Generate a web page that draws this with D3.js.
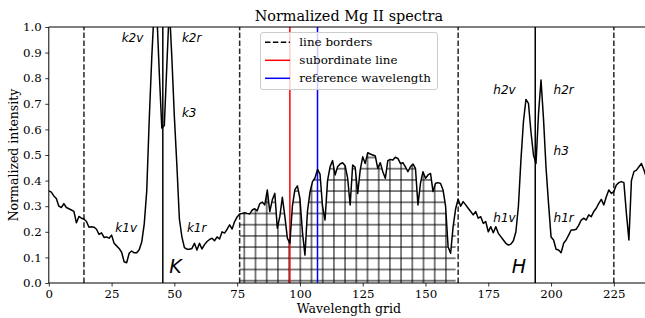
<!DOCTYPE html>
<html>
<head>
<meta charset="utf-8">
<script src="https://cdn.jsdelivr.net/npm/d3@7/dist/d3.min.js"></script>
<style>
	body { margin: 0; background: #fff; }
	svg { display: block; overflow: hidden; }
</style>
</head>
<body>
<svg id="chart" width="645" height="318"></svg>
<script>
// normalized intensity per wavelength grid point (0..239)
const intensity = [
	0.36, 0.355, 0.34, 0.33, 0.30, 0.295, 0.31, 0.295, 0.29, 0.285,
	0.28, 0.235, 0.26, 0.253, 0.25, 0.24, 0.218, 0.22, 0.218, 0.21,
	0.19, 0.196, 0.178, 0.18, 0.175, 0.187, 0.155, 0.145, 0.135, 0.12,
	0.083, 0.079, 0.116, 0.125, 0.118, 0.118, 0.13, 0.16, 0.23, 0.36,
	0.64, 0.88, 1.08, 1.06, 0.82, 0.605, 0.615, 0.85, 1.08, 0.88,
	0.65, 0.46, 0.25, 0.18, 0.138, 0.132, 0.132, 0.135, 0.155, 0.129,
	0.155, 0.133, 0.15, 0.162, 0.17, 0.175, 0.165, 0.18, 0.172, 0.2,
	0.195, 0.21, 0.227, 0.211, 0.24, 0.258, 0.27, 0.272, 0.275, 0.272,
	0.27, 0.285, 0.29, 0.282, 0.31, 0.316, 0.305, 0.363, 0.279, 0.325,
	0.35, 0.214, 0.26, 0.335, 0.26, 0.175, 0.155, 0.30, 0.365, 0.379,
	0.33, 0.20, 0.109, 0.28, 0.355, 0.396, 0.41, 0.444, 0.425, 0.30,
	0.246, 0.40, 0.454, 0.478, 0.422, 0.454, 0.465, 0.47, 0.458, 0.41,
	0.305, 0.461, 0.452, 0.35, 0.441, 0.493, 0.467, 0.509, 0.504, 0.50,
	0.496, 0.448, 0.47, 0.435, 0.409, 0.478, 0.483, 0.48, 0.491, 0.487,
	0.467, 0.47, 0.454, 0.435, 0.454, 0.465, 0.448, 0.305, 0.389, 0.435,
	0.409, 0.422, 0.428, 0.357, 0.39, 0.392, 0.389, 0.363, 0.30, 0.142,
	0.116, 0.22, 0.29, 0.327, 0.30, 0.318, 0.305, 0.292, 0.279, 0.266,
	0.279, 0.253, 0.259, 0.233, 0.24, 0.20, 0.22, 0.196, 0.22, 0.194,
	0.181, 0.168, 0.155, 0.148, 0.152, 0.165, 0.20, 0.30, 0.48, 0.63,
	0.717, 0.702, 0.59, 0.50, 0.467, 0.66, 0.793, 0.64, 0.45, 0.31,
	0.18, 0.168, 0.132, 0.129, 0.118, 0.155, 0.168, 0.187, 0.207, 0.207,
	0.21, 0.225, 0.246, 0.253, 0.246, 0.266, 0.259, 0.279, 0.292, 0.311,
	0.327, 0.305, 0.337, 0.363, 0.35, 0.357, 0.383, 0.392, 0.396, 0.392,
	0.272, 0.168, 0.40, 0.435, 0.441, 0.454, 0.467, 0.441, 0.41, 0.38
];

const borderLines = [14, 76, 163, 225];
const coreLines = [45.4, 193.7];
const subordinateLine = 96;
const referenceLine = 107;
const hatchRange = [76, 162];

const xTicks = [0, 25, 50, 75, 100, 125, 150, 175, 200, 225];
const yTicks = [0, 0.1, 0.2, 0.3, 0.4, 0.5, 0.6, 0.7, 0.8, 0.9, 1.0];

const featureNames = ["k2v", "k2r", "k3", "k1v", "k1r", "h2v", "h2r", "h3", "h1v", "h1r"];
const featureX = [29, 53, 53, 26.5, 55, 177, 201, 201, 177, 201];
const featureY = [0.94, 0.94, 0.65, 0.2, 0.2, 0.74, 0.74, 0.5, 0.24, 0.24];
const lineNames = ["K", "H"];
const lineNameX = [48, 184.3];
const lineNameY = [0.04, 0.04];

const legendNames = ["line borders", "subordinate line", "reference wavelength"];
const legendColors = ["#000", "red", "blue"];

const serif = "'DejaVu Serif', serif";
const sans = "'DejaVu Sans', sans-serif";

const drawSpectrum = (svg_name) => {
	let chart = d3.select(svg_name);
	let margin = {left: 48.8, right: 649, top: 27, bottom: 283};
	let x = d3.scaleLinear().domain([0, intensity.length - 1]).range([margin.left, margin.right]);
	let y = d3.scaleLinear().domain([0, 1]).range([margin.bottom, margin.top]);

	let defs = chart.append("defs");
	defs.append("clipPath").attr("id", "plotClip")
		.append("rect")
		.attr("x", margin.left).attr("y", margin.top)
		.attr("width", margin.right - margin.left).attr("height", margin.bottom - margin.top);

	// '+' hatch like matplotlib
	let step = 11.2;
	let pat = defs.append("pattern").attr("id", "plusHatch")
		.attr("patternUnits", "userSpaceOnUse")
		.attr("x", 244.3 - step / 2).attr("y", 280.7 - step / 2)
		.attr("width", step).attr("height", step);
	pat.append("line").attr("x1", step / 2).attr("x2", step / 2).attr("y1", 0).attr("y2", step)
		.attr("stroke", "#000").attr("stroke-width", 1);
	pat.append("line").attr("y1", step / 2).attr("y2", step / 2).attr("x1", 0).attr("x2", step)
		.attr("stroke", "#000").attr("stroke-width", 1);

	let plot = chart.append("g").attr("clip-path", "url(#plotClip)");

	let hatchData = d3.range(hatchRange[0], hatchRange[1] + 1);
	let area = d3.area()
		.x((d) => x(d))
		.y0(y(0))
		.y1((d) => y(intensity[d]));
	plot.append("path")
		.attr("d", area(hatchData))
		.attr("fill", "url(#plusHatch)")
		.attr("stroke", "none");

	plot.selectAll(".border")
		.data(borderLines)
		.enter().append("line")
		.attr("class", "border")
		.attr("x1", (d) => x(d)).attr("x2", (d) => x(d))
		.attr("y1", y(0)).attr("y2", y(1))
		.attr("stroke", "#000").attr("stroke-width", 1.5)
		.attr("stroke-dasharray", "5.5,2.4")
		.attr("opacity", 0.85);

	plot.selectAll(".core")
		.data(coreLines)
		.enter().append("line")
		.attr("class", "core")
		.attr("x1", (d) => x(d)).attr("x2", (d) => x(d))
		.attr("y1", y(0)).attr("y2", y(1))
		.attr("stroke", "#000").attr("stroke-width", 1.5);

	plot.append("line")
		.attr("x1", x(subordinateLine)).attr("x2", x(subordinateLine))
		.attr("y1", y(0)).attr("y2", y(1))
		.attr("stroke", "red").attr("stroke-width", 1.5);
	plot.append("line")
		.attr("x1", x(referenceLine)).attr("x2", x(referenceLine))
		.attr("y1", y(0)).attr("y2", y(1))
		.attr("stroke", "blue").attr("stroke-width", 1.5);

	let line = d3.line()
		.x((d, i) => x(i))
		.y((d) => y(d));
	plot.append("path")
		.attr("d", line(intensity))
		.attr("fill", "none")
		.attr("stroke", "#000")
		.attr("stroke-width", 1.5)
		.attr("stroke-linejoin", "round");

	addLabels(chart, x, y);
	addAxes(chart, x, y, margin);
	addLegend(chart);

	chart.append("text")
		.attr("x", (margin.left + margin.right) / 2).attr("y", 20.7)
		.attr("text-anchor", "middle")
		.style("font-family", serif).style("font-size", "14.4px")
		.text("Normalized Mg II spectra");
}

const addLabels = (chart, x, y) => {
	chart.append("g").selectAll("text")
		.data(featureNames)
		.enter().append("text")
		.attr("x", (d, i) => x(featureX[i]))
		.attr("y", (d, i) => y(featureY[i]))
		.style("font-family", sans).style("font-style", "italic").style("font-size", "12px")
		.text((d) => d);

	chart.append("g").selectAll("text")
		.data(lineNames)
		.enter().append("text")
		.attr("x", (d, i) => x(lineNameX[i]))
		.attr("y", (d, i) => y(lineNameY[i]))
		.style("font-family", sans).style("font-style", "italic").style("font-size", "19px")
		.text((d) => d);
}

const addAxes = (chart, x, y, margin) => {
	let x_axis = d3.axisBottom(x).tickValues(xTicks).tickSize(3.5).tickPadding(3.5).tickFormat(d3.format("d"));
	let gx = chart.append("g")
		.attr("transform", `translate(0,${margin.bottom})`)
		.call(x_axis);
	gx.select(".domain").remove();

	let y_axis = d3.axisLeft(y).tickValues(yTicks).tickSize(3.5).tickPadding(3.5).tickFormat(d3.format(".1f"));
	let gy = chart.append("g")
		.attr("transform", `translate(${margin.left},0)`)
		.call(y_axis);
	gy.select(".domain").remove();

	[gx, gy].forEach((g) => {
		g.selectAll("text").style("font-family", serif).style("font-size", "11.8px").attr("fill", "#000");
		g.selectAll("line").attr("stroke", "#000").attr("stroke-width", 0.8);
	});

	// spines
	chart.append("line").attr("x1", margin.left).attr("x2", margin.right)
		.attr("y1", margin.bottom).attr("y2", margin.bottom).attr("stroke", "#000").attr("stroke-width", 1);
	chart.append("line").attr("x1", margin.left).attr("x2", margin.right)
		.attr("y1", margin.top).attr("y2", margin.top).attr("stroke", "#000").attr("stroke-width", 1);
	chart.append("line").attr("x1", margin.left).attr("x2", margin.left)
		.attr("y1", margin.top).attr("y2", margin.bottom).attr("stroke", "#000").attr("stroke-width", 1);

	chart.append("text")
		.attr("x", (margin.left + margin.right) / 2).attr("y", 313)
		.attr("text-anchor", "middle")
		.style("font-family", serif).style("font-size", "12.5px")
		.text("Wavelength grid");

	chart.append("text")
		.attr("transform", `translate(17.5,${(margin.top + margin.bottom) / 2}) rotate(-90)`)
		.attr("text-anchor", "middle")
		.style("font-family", serif).style("font-size", "12.5px")
		.text("Normalized intensity");
}

const addLegend = (chart) => {
	let legend = chart.append("g");
	legend.append("rect")
		.attr("x", 260.5).attr("y", 32.5)
		.attr("width", 177).attr("height", 57)
		.attr("rx", 2.5)
		.attr("fill", "#fff").attr("fill-opacity", 0.8)
		.attr("stroke", "#ccc").attr("stroke-width", 1);
	let rows = legend.selectAll(".row")
		.data(legendNames)
		.enter().append("g")
		.attr("class", "row")
		.attr("transform", (d, i) => `translate(0,${42.3 + i * 18})`);
	rows.append("line")
		.attr("x1", 265).attr("x2", 290)
		.attr("stroke", (d, i) => legendColors[i])
		.attr("stroke-width", 1.5)
		.attr("stroke-dasharray", (d, i) => i == 0 ? "5.5,2.4" : null);
	rows.append("text")
		.attr("x", 299.3).attr("dy", "0.35em")
		.style("font-family", serif).style("font-size", "11.9px")
		.text((d) => d);
}

drawSpectrum("#chart");
</script>
</body>
</html>
